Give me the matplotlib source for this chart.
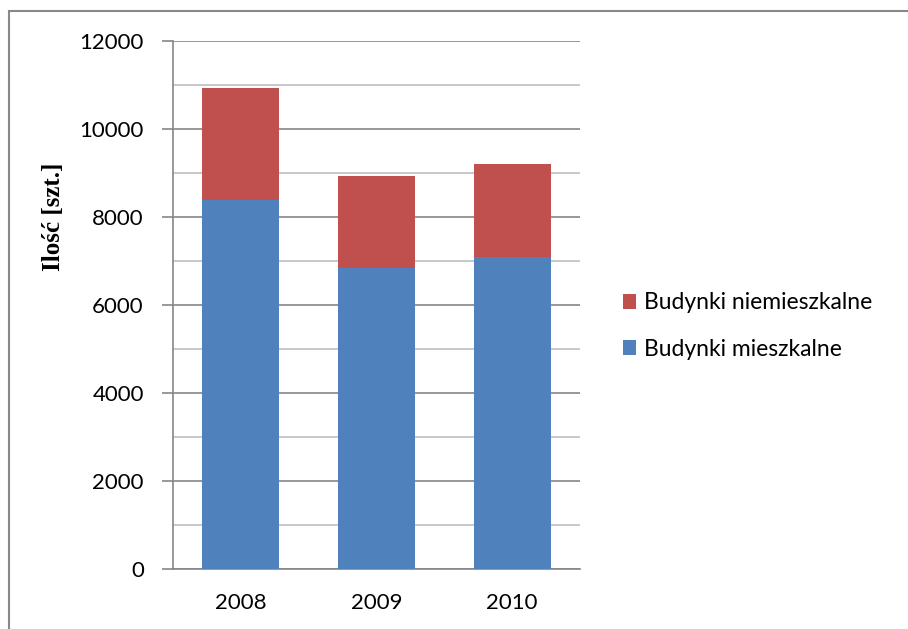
import matplotlib
matplotlib.use("Agg")
import matplotlib.pyplot as plt
from matplotlib.patches import Rectangle
from matplotlib.ticker import MultipleLocator

years = ["2008", "2009", "2010"]
mieszkalne = [8390, 6850, 7090]
niemieszkalne = [2535, 2090, 2105]
series_names = ["Budynki mieszkalne", "Budynki niemieszkalne"]
colors = ["#4F81BD", "#C0504D"]

W, H = 908, 629
fig = plt.figure(figsize=(W / 100, H / 100), dpi=100)
font = ["Lato", "DejaVu Sans"]

# outer frame (extends past right/bottom edges)
fig.patches.append(Rectangle((8.5 / W, -0.05), 1.2, 1 - 11 / H + 0.05,
                             transform=fig.transFigure, fill=False,
                             edgecolor="#888888", linewidth=1.5))

ax = fig.add_axes([173 / W, 1 - 569 / H, (580 - 173) / W, (569 - 41) / H])
x = range(len(years))
ax.bar(x, mieszkalne, width=0.57, color=colors[0], label=series_names[0], zorder=3)
ax.bar(x, niemieszkalne, width=0.57, bottom=mieszkalne, color=colors[1],
       label=series_names[1], zorder=3)

ax.set_xlim(-0.5, 2.5)
ax.set_ylim(0, 12000)
ax.yaxis.set_major_locator(MultipleLocator(2000))
ax.yaxis.set_minor_locator(MultipleLocator(1000))
ax.grid(which="major", axis="y", color="#868686", linewidth=1.2, zorder=0)
ax.grid(which="minor", axis="y", color="#BFBFBF", linewidth=1.2, zorder=0)
for s in ["top", "right"]:
    ax.spines[s].set_visible(False)
ax.spines["left"].set_color("#868686")
ax.spines["bottom"].set_color("#868686")
ax.spines["left"].set_linewidth(1.2)
ax.spines["bottom"].set_linewidth(1.2)
ax.tick_params(axis="y", which="major", length=8, width=1.2, color="#868686",
               pad=13, labelsize=16)
ax.tick_params(axis="y", which="minor", length=0)
ax.tick_params(axis="x", length=0, pad=17, labelsize=16)
ax.set_xticks(list(x))
ax.set_xticklabels(years)
for lab in ax.get_xticklabels() + ax.get_yticklabels():
    lab.set_family(font)

ax.set_ylabel("Ilość [szt.]", family=["Liberation Serif", "DejaVu Serif"],
              fontweight="bold", fontsize=18)
ax.yaxis.set_label_coords(65 / W, 1 - 217 / H, transform=fig.transFigure)

handles, labels = ax.get_legend_handles_labels()
leg = fig.legend(handles[::-1], labels[::-1], loc="center left",
                 bbox_to_anchor=(602 / W, 1 - 326 / H), frameon=False,
                 prop={"family": font, "size": 16.5}, handlelength=0.6,
                 handleheight=0.6, handletextpad=0.35, labelspacing=1.1)

fig.savefig("out.png", dpi=100)
